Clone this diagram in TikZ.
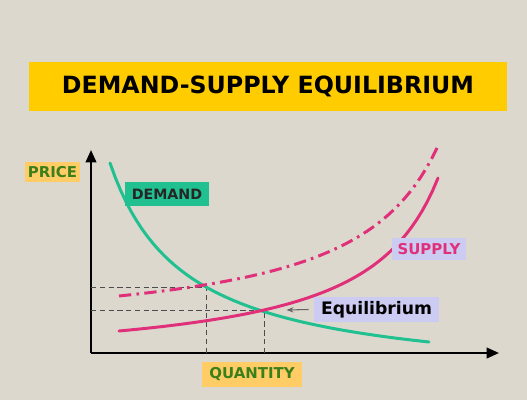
\documentclass[tikz,border=0pt]{standalone}
\usepackage{fontspec}
\setmainfont{DejaVu Sans}
\usepackage{xcolor}
\usetikzlibrary{positioning,calc,arrows.meta}

\definecolor{paper}{HTML}{DDD8CD}
\definecolor{gold}{HTML}{FFCC00}
\definecolor{sand}{HTML}{FFCC66}
\definecolor{leaf}{HTML}{3A7F1A}
\definecolor{teal}{HTML}{20C090}
\definecolor{rose}{HTML}{E0307A}
\definecolor{lilac}{HTML}{CCCCF2}

\begin{document}
\begin{tikzpicture}[x=0.02cm, y=-0.02cm, font=\bfseries,
    tag/.style={rectangle, inner sep=0pt, font=\bfseries\fontsize{8.5}{10}\selectfont},
    curve/.style={line width=1.7pt, line cap=round},
    guide/.style={densely dashed, line width=0.5pt, black!70}]
    \fill[paper] (0,0) rectangle (527,400);

    % title band
    \node [fill=gold, minimum width=9.56cm, minimum height=0.98cm, inner sep=0pt,
           font=\bfseries\fontsize{13.5}{16}\selectfont] (title) at (268,86.5) {DEMAND-SUPPLY EQUILIBRIUM};

    % axes
    \coordinate (o) at (91,353);
    \coordinate (ytop) at (91,150);
    \coordinate (xend) at (499,353);
    \draw [line width=1.2pt, -{Triangle[length=7pt,width=6pt]}] (o) -- (ytop);
    \draw [line width=1.2pt, -{Triangle[length=7pt,width=6pt]}] (o) -- (xend);

    % equilibrium points
    \coordinate (cross) at (206,287);
    \coordinate (eq) at (264,310);

    % guides
    \draw [guide] (o |- cross) -- (cross) -- (cross |- o);
    \draw [guide] (o |- eq) -- (eq) -- (eq |- o);

    % curves
    \draw [curve, teal] plot [domain=110:429, samples=60] (\x, {384.25 - 166.59/((\x-34.7)/100)});
    \draw [curve, rose] plot [domain=119:438, samples=60] (\x, {367.1 - 142.37/((513.3-\x)/100)});
    \draw [curve, rose, line cap=butt, dash pattern=on 7pt off 3pt on 1.5pt off 3pt]
        plot [domain=119:437, samples=60] (\x, {337.6 - 169.57/((526.4-\x)/100)});

    % labels
    \node [tag, fill=sand, text=leaf, minimum width=1.1cm, minimum height=0.4cm] (price) at (52.5,172) {PRICE};
    \node [tag, fill=teal, text=black!85, minimum width=1.68cm, minimum height=0.48cm,
           font=\bfseries\fontsize{8.1}{10}\selectfont] (demand) at (167,194) {DEMAND};
    \node [tag, fill=sand, text=leaf, minimum width=2cm, minimum height=0.5cm] (qty) at (252,374.5) {QUANTITY};
    \node [tag, fill=lilac, text=rose, minimum width=1.48cm, minimum height=0.44cm] (supply) at (429,249) {SUPPLY};
    \node [tag, fill=lilac, text=black, minimum width=2.5cm, minimum height=0.5cm,
           font=\bfseries\fontsize{9.8}{12}\selectfont] (equil) at (376.5,309.5) {Equilibrium};

    \draw [black!60, line width=0.6pt, -{Stealth[length=4pt]}] ([xshift=-0.1cm]equil.west) -- ([xshift=0.45cm]eq);
\end{tikzpicture}
\end{document}
